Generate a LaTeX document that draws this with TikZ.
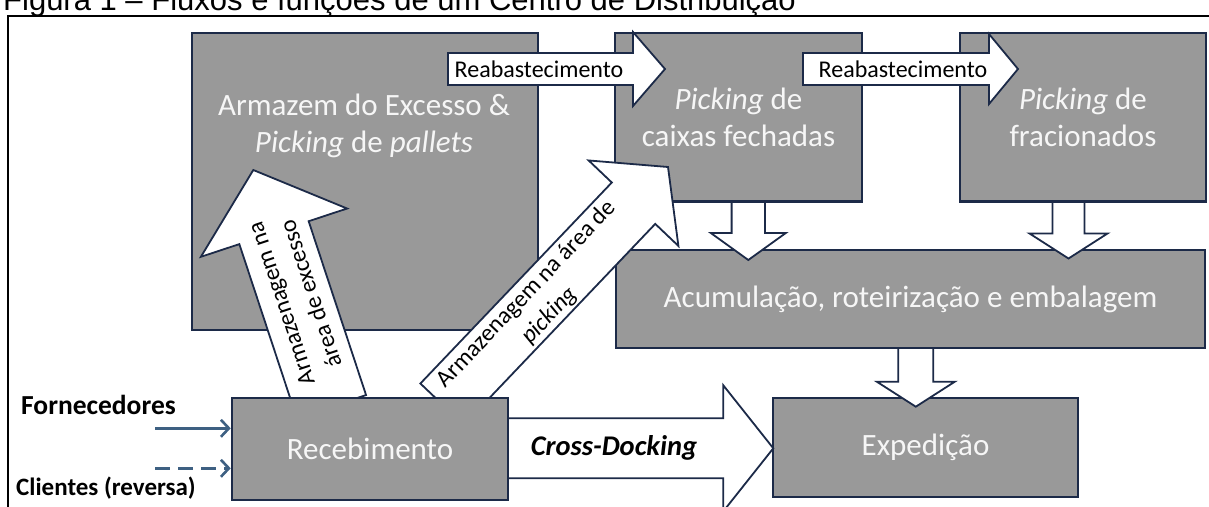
\documentclass[tikz,border=0pt]{standalone}
\usepackage{fontspec}
\setmainfont{Carlito}
\newfontfamily\captionfnt{Liberation Sans}
\usetikzlibrary{calc,arrows.meta}

\definecolor{boxgray}{RGB}{153,153,153}
\definecolor{navy}{RGB}{28,42,72}
\definecolor{boxtext}{RGB}{246,246,246}
\definecolor{inflow}{RGB}{62,96,130}

\newcommand{\bxfont}{\fontsize{31}{37}\selectfont}
\newcommand{\arrfont}{\fontsize{24}{31}\selectfont}

% Block arrow from #1 to #2: half shaft width #3, half head width #4, head length #5
\newcommand{\blockarrow}[5]{%
  \coordinate (ba-hb) at ($(#2)!#5!(#1)$);
  \filldraw[blockarr] ($(#1)!#3!90:(#2)$) -- ($(ba-hb)!#3!-90:(#1)$)
    -- ($(ba-hb)!#4!-90:(#1)$) -- (#2) -- ($(ba-hb)!#4!90:(#1)$)
    -- ($(ba-hb)!#3!90:(#1)$) -- ($(#1)!#3!-90:(#2)$) -- cycle;
}

\begin{document}
\begin{tikzpicture}[x=1pt,y=-1pt,
  box/.style={draw=navy, line width=2.6pt, fill=boxgray, text=boxtext,
    inner sep=0pt, align=center, font=\bxfont},
  blockarr/.style={draw=navy, line width=1.8pt, fill=white, line join=miter},
  arrlabel/.style={inner sep=0pt, align=center, font=\arrfont, text=black},
  inarrow/.style={draw=inflow, line width=2.6pt,
    -{Straight Barb[length=8pt,width=17pt]}},
  srclabel/.style={anchor=west, inner sep=0pt, text=black}]

\useasboundingbox (0,0) rectangle (1209,506);
\clip (0,0) rectangle (1209,506);

% caption and frame
\node[anchor=base west, inner sep=0pt, font=\captionfnt\fontsize{31}{31}\selectfont]
  (caption) at (3,10) {Figura 1 – Fluxos e funções de um Centro de Distribuição};
\draw[line width=1.6pt] (8,16) rectangle (1240,540);

% arrow end points
\coordinate (acc-exp-s) at (915.8,340);   \coordinate (acc-exp-e) at (915.8,406.7);
\coordinate (cai-acc-s) at (748.3,195);   \coordinate (cai-acc-e) at (748.3,260);
\coordinate (fra-acc-s) at (1068.5,195);  \coordinate (fra-acc-e) at (1068.5,258.5);
\coordinate (reab1-s)   at (448,69);      \coordinate (reab1-e)   at (665,69);
\coordinate (reab2-s)   at (803,69);      \coordinate (reab2-e)   at (1018,69);
\coordinate (exc-s)     at (331.4,406.5); \coordinate (exc-e)     at (253.3,170);
\coordinate (pick-s)    at (442.1,404.2); \coordinate (pick-e)    at (668,167);
\coordinate (cross-s)   at (500,448.3);   \coordinate (cross-e)   at (773.3,448.3);

% shipping
\node[box, minimum width=305pt, minimum height=99pt] (exp) at (925.5,447.5) {Expedição};
\blockarrow{acc-exp-s}{acc-exp-e}{17.5pt}{39pt}{25pt}

% consolidation
\node[box, minimum width=589pt, minimum height=98pt] (acc) at (910.5,299)
  {Acumulação, roteirização e embalagem};
\blockarrow{cai-acc-s}{cai-acc-e}{16.7pt}{37.5pt}{27pt}
\blockarrow{fra-acc-s}{fra-acc-e}{16pt}{39pt}{25pt}

% storage and picking areas
\node[box, minimum width=346pt, minimum height=297pt] (arm) at (365,181.5) {};
\node[inner sep=0pt, align=center, font=\bxfont, text=boxtext] (arm-t) at (364,125.5)
  {Armazem do Excesso \&\\\textit{Picking} de \textit{pallets}};
\node[box, minimum width=247pt, minimum height=168.5pt] (cai) at (738.5,117.25)
  {\textit{Picking} de\\caixas fechadas};
\node[box, minimum width=246pt, minimum height=168.5pt] (fra) at (1083,117.25)
  {\textit{Picking} de\\fracionados};

% replenishment
\blockarrow{reab1-s}{reab1-e}{16pt}{37pt}{32pt}
\node[arrlabel] (reab1-t) at (539,69) {Reabastecimento};
\blockarrow{reab2-s}{reab2-e}{16pt}{35pt}{29pt}
\node[arrlabel] (reab2-t) at (903,69) {Reabastecimento};

% put-away and cross-docking
\blockarrow{exc-s}{exc-e}{36.5pt}{77pt}{66pt}
\node[arrlabel, rotate=108.3] (exc-t) at (296,299) {Armazenagem na\\área de excesso};
\blockarrow{pick-s}{pick-e}{30pt}{62pt}{50pt}
\node[arrlabel, rotate=46.4] (pick-t) at (538,305) {Armazenagem na área de\\\textit{picking}};
\blockarrow{cross-s}{cross-e}{30pt}{63pt}{50pt}
\node[arrlabel, font=\fontsize{28.5}{30}\selectfont\bfseries\itshape] (cross-t) at (614,448)
  {Cross-Docking};

% receiving
\node[box, minimum width=276pt, minimum height=102pt] (rec) at (370,449) {Recebimento};

% inbound flows
\node[srclabel, font=\fontsize{27.5}{30}\selectfont\bfseries] (forn) at (21,405) {Fornecedores};
\node[srclabel, font=\fontsize{25}{30}\selectfont\bfseries] (cli) at (16,488) {Clientes (reversa)};
\coordinate (forn-s) at (155,428.3);
\coordinate (cli-s) at (155,468.3);
\draw[inarrow] (forn-s) -- (forn-s -| rec.west);
\draw[inarrow, dash pattern=on 15pt off 8pt] (cli-s) -- (cli-s -| rec.west);
\end{tikzpicture}
\end{document}
